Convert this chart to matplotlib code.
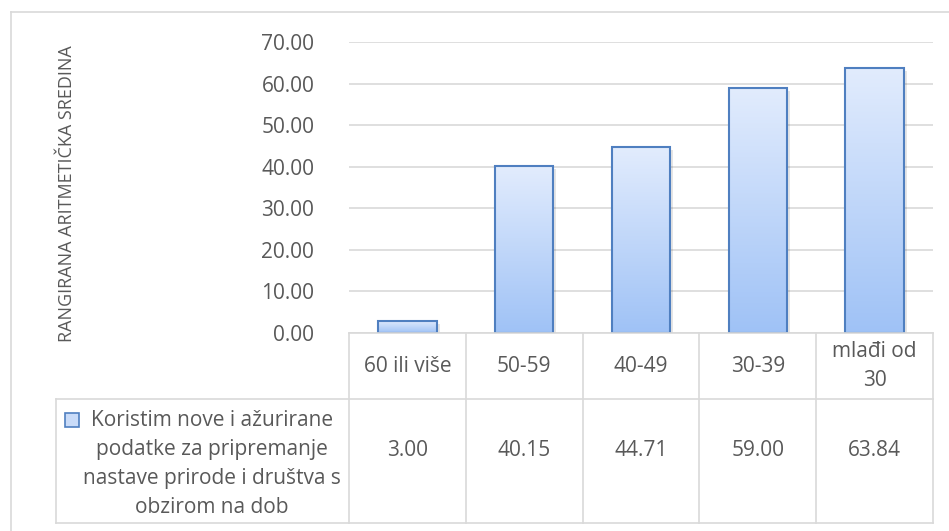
import matplotlib
matplotlib.use("Agg")
import matplotlib.pyplot as plt
import numpy as np
from matplotlib.transforms import blended_transform_factory
from matplotlib.patches import Rectangle
from matplotlib.colors import LinearSegmentedColormap

categories = ["60 ili više", "50-59", "40-49", "30-39", "mlađi od\n30"]
values = [3.00, 40.15, 44.71, 59.00, 63.84]
value_labels = ["3.00", "40.15", "44.71", "59.00", "63.84"]
series_name = "Koristim nove i ažurirane\npodatke za pripremanje\nnastave prirode i društva s\nobzirom na dob"
ylabel = "RANGIRANA ARITMETIČKA SREDINA"
yticks = [0, 10, 20, 30, 40, 50, 60, 70]

FONT = ["Open Sans", "DejaVu Sans"]
plt.rcParams['font.family'] = FONT
TXT = "#595959"
GRID = "#d9d9d9"
EDGE = "#4f7fc0"
FS = 15

W, H = 949, 531
fig = plt.figure(figsize=(W / 100, H / 100), dpi=100)

def fx(px):
    return px / W

def fy(py):
    return 1 - py / H

# outer frame (top + left)
fig.add_artist(plt.Line2D([fx(11), fx(11)], [fy(12), fy(531)], color=GRID, lw=1.2))
fig.add_artist(plt.Line2D([fx(11), fx(949)], [fy(12), fy(12)], color=GRID, lw=1.2))

ax_l, ax_r, ax_t, ax_b = 349, 933, 42, 333
ax = fig.add_axes([fx(ax_l), fy(ax_b), fx(ax_r - ax_l), (ax_b - ax_t) / H])
n = len(categories)
ax.set_xlim(-0.5, n - 0.5)
ax.set_ylim(0, 70)
ax.set_yticks(yticks)
ax.set_yticklabels([f"{t:.2f}" for t in yticks], fontsize=FS, color=TXT)
ax.tick_params(axis='y', length=0, pad=25)
ax.set_xticks([])
for s in ax.spines.values():
    s.set_visible(False)
ax.grid(axis='y', color=GRID, lw=1.2)
ax.set_axisbelow(True)

cmap = LinearSegmentedColormap.from_list("g", ["#9fc2f6", "#e2ecfd"])
grad = np.linspace(0, 1, 256).reshape(-1, 1)
bw = 0.5
bars = ax.bar(range(n), values, width=bw, color="none", edgecolor=EDGE, lw=1.5, zorder=3)
for i, (b, v) in enumerate(zip(bars, values)):
    sh = Rectangle((b.get_x() + 0.025, 0), bw, v - 0.8, facecolor="#000000", alpha=0.10,
                   edgecolor="none", zorder=1.5)
    ax.add_patch(sh)
    im = ax.imshow(grad, cmap=cmap, aspect='auto', origin='lower',
                   extent=(b.get_x(), b.get_x() + bw, 0, v), zorder=2)
    im.set_clip_path(b)
ax.set_xlim(-0.5, n - 0.5)
ax.set_ylim(0, 70)

# y label
fig.text(fx(67), fy(194), ylabel, rotation=90, ha='center', va='center',
         fontsize=13, color=TXT)

# table
tr = blended_transform_factory(ax.transData, fig.transFigure)
row_top, row_mid, row_bot = 333, 399, 523
lines_kw = dict(color=GRID, lw=1.2, clip_on=False)
fig.add_artist(plt.Line2D([fx(ax_l), fx(ax_r)], [fy(row_top), fy(row_top)], **lines_kw))
fig.add_artist(plt.Line2D([fx(56), fx(ax_r)], [fy(row_mid), fy(row_mid)], **lines_kw))
fig.add_artist(plt.Line2D([fx(56), fx(ax_r)], [fy(row_bot), fy(row_bot)], **lines_kw))
fig.add_artist(plt.Line2D([fx(56), fx(56)], [fy(row_mid), fy(row_bot)], **lines_kw))
for k in range(n + 1):
    xv = k - 0.5
    fig.add_artist(plt.Line2D([xv, xv], [fy(row_top), fy(row_bot)], transform=tr, **lines_kw))
for i, (c, vl) in enumerate(zip(categories, value_labels)):
    fig.text(i, fy(366), c, transform=tr, ha='center', va='center',
             fontsize=FS, color=TXT, linespacing=1.47)
    fig.text(i, fy(451), vl, transform=tr, ha='center', va='center',
             fontsize=FS, color=TXT)

# legend cell
fig.text(fx(212), fy(464), series_name, ha='center', va='center', fontsize=FS,
         color=TXT, linespacing=1.49)
fig.add_artist(Rectangle((fx(65), fy(427)), fx(14), 14 / H, facecolor="#c9dbf8",
                         edgecolor=EDGE, lw=1.2))

fig.savefig("out.png", dpi=100)
